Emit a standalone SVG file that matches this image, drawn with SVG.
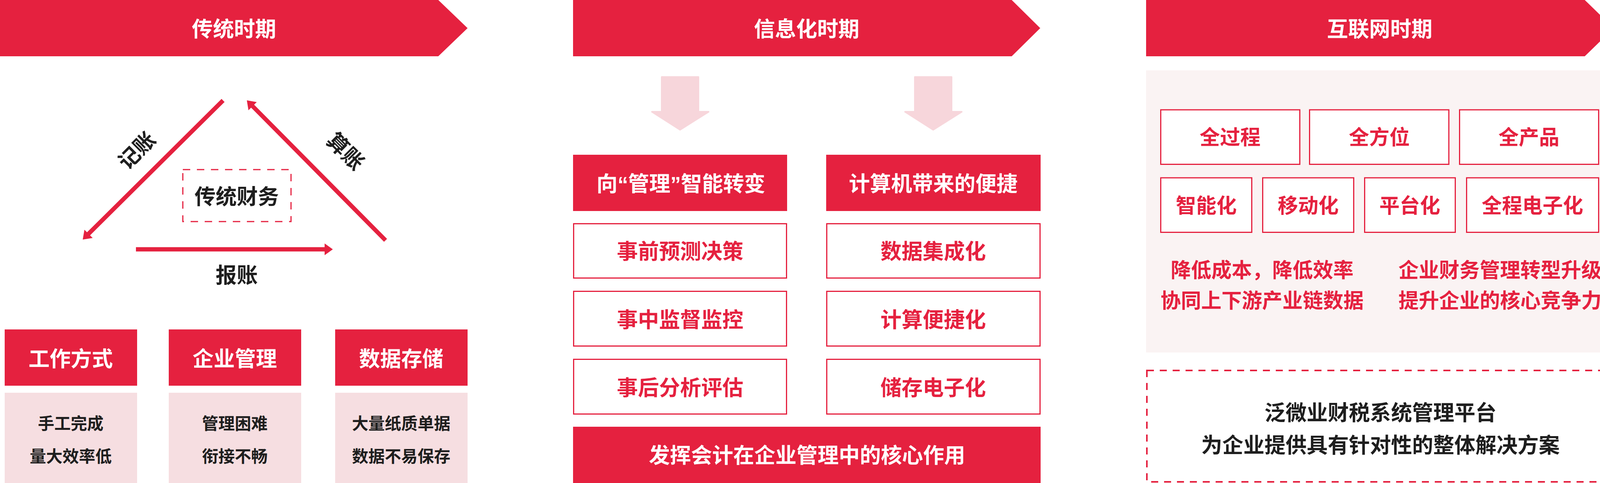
<svg xmlns="http://www.w3.org/2000/svg" width="4131" height="1236" viewBox="0 0 4131 1236">
<style>
text{font-family:"Noto Sans CJK SC","Noto Sans",sans-serif;font-weight:700;text-anchor:middle}
.q{font-family:"Liberation Sans","Noto Sans CJK SC",sans-serif}
.t54{font-size:54px}.t52{font-size:52px}.t42{font-size:42px}
.w{fill:#ffffff}.d{fill:#1e1e1e}.r{fill:#e5213f}
.red{fill:#e5213f}
.pink{fill:#f6dee1}
.ob{fill:#ffffff;stroke:#e5213f;stroke-width:3}
.dash{fill:none;stroke:#e5213f;stroke-width:3;stroke-dasharray:19 17}
.dash2{fill:#ffffff;stroke:#e5213f;stroke-width:4;stroke-dasharray:18 15}
.conn{stroke:#e5213f;stroke-width:11;fill:none;marker-end:url(#ah)}
.down{fill:#f7d6db;stroke:#f7d6db;stroke-width:4;stroke-linejoin:round}
</style>
<defs>
<marker id="ah" markerUnits="userSpaceOnUse" markerWidth="22" markerHeight="32" viewBox="0 -16 22 32" refX="1" refY="0" orient="auto">
<path d="M0,-15 L21,0 L0,15 z" fill="#e5213f"/>
</marker>
</defs>
<rect width="4131" height="1236" fill="#ffffff"/>

<!-- Section 1: 传统时期 -->
<g id="banner-traditional">
<polygon class="red" points="0,0 1122,0 1197,72 1122,144 0,144"/>
<text class="t54 w" x="599" y="94">传统时期</text>
</g>
<g id="node-traditional-finance">
<rect class="dash" x="468" y="434" width="277" height="133"/>
<text class="t54 d" x="606" y="523">传统财务</text>
</g>
<g id="label-jizhang"><text class="t54 d" x="350" y="405" transform="rotate(-45 350 385)">记账</text></g>
<g id="label-suanzhang"><text class="t54 d" x="885" y="407" transform="rotate(45 885 387)">算账</text></g>
<g id="label-baozhang"><text class="t54 d" x="606" y="724">报账</text></g>

<g id="node-work">
<rect class="red" x="12" y="843" width="339" height="144"/>
<text class="t54 w" x="181" y="938">工作方式</text>
<rect class="pink" x="12" y="1005" width="339" height="231"/>
<text class="t42 d" x="181" y="1099">手工完成</text>
<text class="t42 d" x="181" y="1183">量大效率低</text>
</g>
<g id="node-enterprise">
<rect class="red" x="432" y="843" width="339" height="144"/>
<text class="t54 w" x="601" y="938">企业管理</text>
<rect class="pink" x="432" y="1005" width="339" height="231"/>
<text class="t42 d" x="601" y="1099">管理困难</text>
<text class="t42 d" x="601" y="1183">衔接不畅</text>
</g>
<g id="node-data">
<rect class="red" x="858" y="843" width="339" height="144"/>
<text class="t54 w" x="1027" y="938">数据存储</text>
<rect class="pink" x="858" y="1005" width="339" height="231"/>
<text class="t42 d" x="1027" y="1099">大量纸质单据</text>
<text class="t42 d" x="1027" y="1183">数据不易保存</text>
</g>

<!-- Section 2: 信息化时期 -->
<g id="banner-info">
<polygon class="red" points="1467,0 2590,0 2663,72 2590,144 1467,144"/>
<text class="t54 w" x="2065" y="94">信息化时期</text>
</g>
<g id="node-mgmt-head">
<rect class="red" x="1467" y="396" width="548" height="144"/>
<text class="t54 w" x="1743" y="490">向<tspan class="q">“</tspan>管理<tspan class="q">”</tspan>智能转变</text>
</g>
<g id="node-mgmt-1">
<rect class="ob" x="1468.5" y="572.5" width="545" height="139"/>
<text class="t54 r" x="1741" y="663">事前预测决策</text>
</g>
<g id="node-mgmt-2">
<rect class="ob" x="1468.5" y="745.5" width="545" height="140"/>
<text class="t54 r" x="1741" y="838">事中监督监控</text>
</g>
<g id="node-mgmt-3">
<rect class="ob" x="1468.5" y="919.5" width="545" height="140"/>
<text class="t54 r" x="1741" y="1012">事后分析评估</text>
</g>
<g id="node-comp-head">
<rect class="red" x="2115" y="396" width="549" height="144"/>
<text class="t54 w" x="2389" y="490">计算机带来的便捷</text>
</g>
<g id="node-comp-1">
<rect class="ob" x="2116.5" y="572.5" width="546" height="139"/>
<text class="t54 r" x="2389" y="663">数据集成化</text>
</g>
<g id="node-comp-2">
<rect class="ob" x="2116.5" y="745.5" width="546" height="140"/>
<text class="t54 r" x="2389" y="838">计算便捷化</text>
</g>
<g id="node-comp-3">
<rect class="ob" x="2116.5" y="919.5" width="546" height="140"/>
<text class="t54 r" x="2389" y="1012">储存电子化</text>
</g>
<g id="node-core">
<rect class="red" x="1467" y="1092" width="1197" height="144"/>
<text class="t54 w" x="2066" y="1185">发挥会计在企业管理中的核心作用</text>
</g>

<!-- Section 3: 互联网时期 -->
<g id="banner-internet">
<polygon class="red" points="2934,0 4057,0 4131,72 4057,144 2934,144"/>
<text class="t54 w" x="3532" y="94">互联网时期</text>
</g>
<g id="panel-internet">
<rect x="2934" y="180" width="1197" height="722" fill="#faf3f3"/>
</g>
<g id="node-quanguocheng"><rect class="ob" x="2971.5" y="281" width="356" height="139.5"/><text class="t52 r" x="3149" y="370">全过程</text></g>
<g id="node-quanfangwei"><rect class="ob" x="3352.5" y="281" width="356.5" height="139.5"/><text class="t52 r" x="3531" y="370">全方位</text></g>
<g id="node-quanchanpin"><rect class="ob" x="3736.5" y="281" width="356" height="139.5"/><text class="t52 r" x="3914" y="370">全产品</text></g>
<g id="node-zhineng"><rect class="ob" x="2971.5" y="455" width="233" height="139.5"/><text class="t52 r" x="3088" y="545">智能化</text></g>
<g id="node-yidong"><rect class="ob" x="3232.5" y="455" width="233" height="139.5"/><text class="t52 r" x="3349" y="545">移动化</text></g>
<g id="node-pingtai"><rect class="ob" x="3493.5" y="455" width="232" height="139.5"/><text class="t52 r" x="3609" y="545">平台化</text></g>
<g id="node-dianzi"><rect class="ob" x="3754.5" y="455" width="338" height="139.5"/><text class="t52 r" x="3923" y="545">全程电子化</text></g>
<g id="text-benefits-left">
<text class="t52 r" x="3231" y="710">降低成本，降低效率</text>
<text class="t52 r" x="3231" y="788">协同上下游产业链数据</text>
</g>
<g id="text-benefits-right">
<text class="t52 r" x="3840" y="710">企业财务管理转型升级</text>
<text class="t52 r" x="3840" y="788">提升企业的核心竞争力</text>
</g>
<g id="node-platform">
<rect class="dash2" x="2936" y="948" width="1192" height="285"/>
<text class="t54 d" x="3534" y="1076">泛微业财税系统管理平台</text>
<text class="t54 d" x="3534" y="1159">为企业提供具有针对性的整体解决方案</text>
</g>

<!-- Connectors -->
<g id="connectors">
<line class="conn" x1="571" y1="257" x2="226" y2="599"/>
<line class="conn" x1="987" y1="615" x2="646" y2="271"/>
<line class="conn" x1="348" y1="638" x2="832" y2="638"/>
<polygon class="down" points="1694,197 1788,197 1788,286 1814,286 1741,332 1669,286 1694,286"/>
<polygon class="down" points="2342,197 2436,197 2436,286 2462,286 2389,332 2317,286 2342,286"/>
</g>
</svg>
